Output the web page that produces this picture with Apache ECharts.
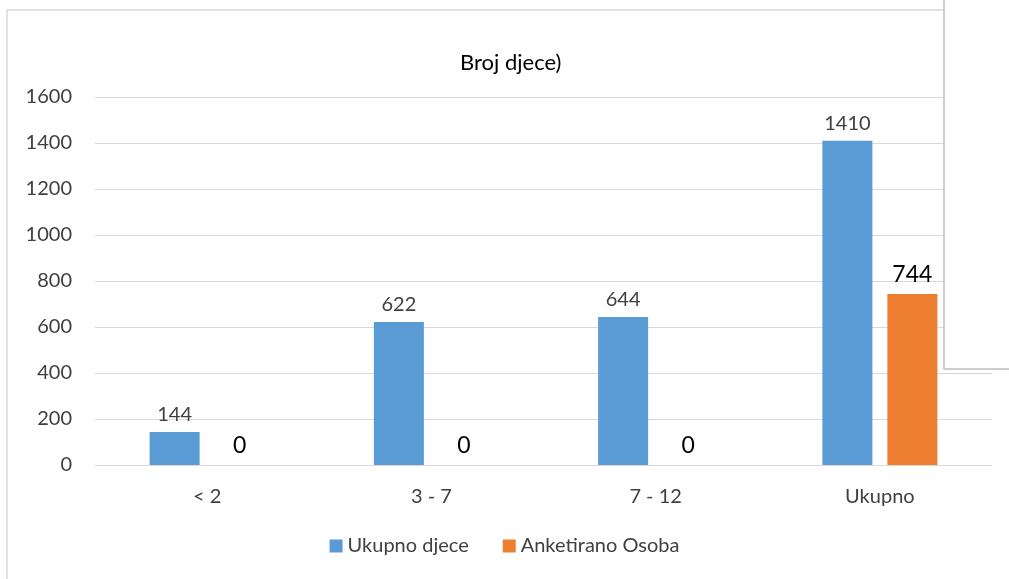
<!DOCTYPE html>
<html><head><meta charset="utf-8">
<script src="https://cdn.jsdelivr.net/npm/echarts@6/dist/echarts.min.js"></script>
<style>html,body{margin:0;padding:0;background:#fff}#c{width:1009px;height:579px}</style>
</head><body><div id="c"></div>
<script>
const categories = ['< 2', '3 - 7', '7 - 12', 'Ukupno'];
const ukupnoDjece = [144, 622, 644, 1410];
const anketiranoOsoba = [0, 0, 0, 744];
const yTicks = [0, 200, 400, 600, 800, 1000, 1200, 1400, 1600];

const chart = echarts.init(document.getElementById('c'));
const font = 'Lato, "Open Sans", sans-serif';
chart.setOption({
  animation: false,
  textStyle: { fontFamily: font },
  title: { text: 'Broj djece)', left: 455, top: 47,
    textStyle: { fontFamily: font, fontSize: 22, fontWeight: 'normal', color: '#000' } },
  legend: { bottom: 18, left: 'center', itemWidth: 13, itemHeight: 13, itemGap: 34,
    icon: 'rect', textStyle: { fontFamily: font, fontSize: 20, color: '#404040' },
    data: ['Ukupno djece', 'Anketirano Osoba'] },
  grid: { left: 95, right: 17, top: 97, bottom: 114 },
  xAxis: { type: 'category', data: categories,
    axisLine: { lineStyle: { color: '#d9d9d9', width: 1 } },
    axisTick: { show: false },
    axisLabel: { fontFamily: font, fontSize: 20, color: '#404040', margin: 22 } },
  yAxis: { type: 'value', min: yTicks[0], max: yTicks[yTicks.length - 1], interval: 200,
    axisLine: { show: false }, axisTick: { show: false },
    splitLine: { lineStyle: { color: '#d9d9d9', width: 1 } },
    axisLabel: { fontFamily: font, fontSize: 20, color: '#404040', margin: 23,
      formatter: v => String(v) } },
  series: [
    { name: 'Ukupno djece', type: 'bar', data: ukupnoDjece, barWidth: 50, barGap: '30%',
      itemStyle: { color: '#5b9bd5' },
      label: { show: true, position: 'top', distance: 7, fontFamily: font, fontSize: 20, color: '#404040' } },
    { name: 'Anketirano Osoba', type: 'bar', data: anketiranoOsoba, barWidth: 50,
      itemStyle: { color: '#ed7d31' },
      label: { show: true, position: 'top', distance: 8, fontFamily: font, fontSize: 23, color: '#000' } }
  ],
  graphic: [
    { type: 'polyline', z: 100, shape: { points: [[7, 579], [7, 10], [944, 10]] },
      style: { stroke: '#d9d9d9', lineWidth: 1.5, fill: null } },
    { type: 'rect', z: 100, shape: { x: 944, y: -2, width: 70, height: 371 },
      style: { fill: '#fff', stroke: '#bfbfbf', lineWidth: 1.5 } }
  ]
});
</script></body></html>
